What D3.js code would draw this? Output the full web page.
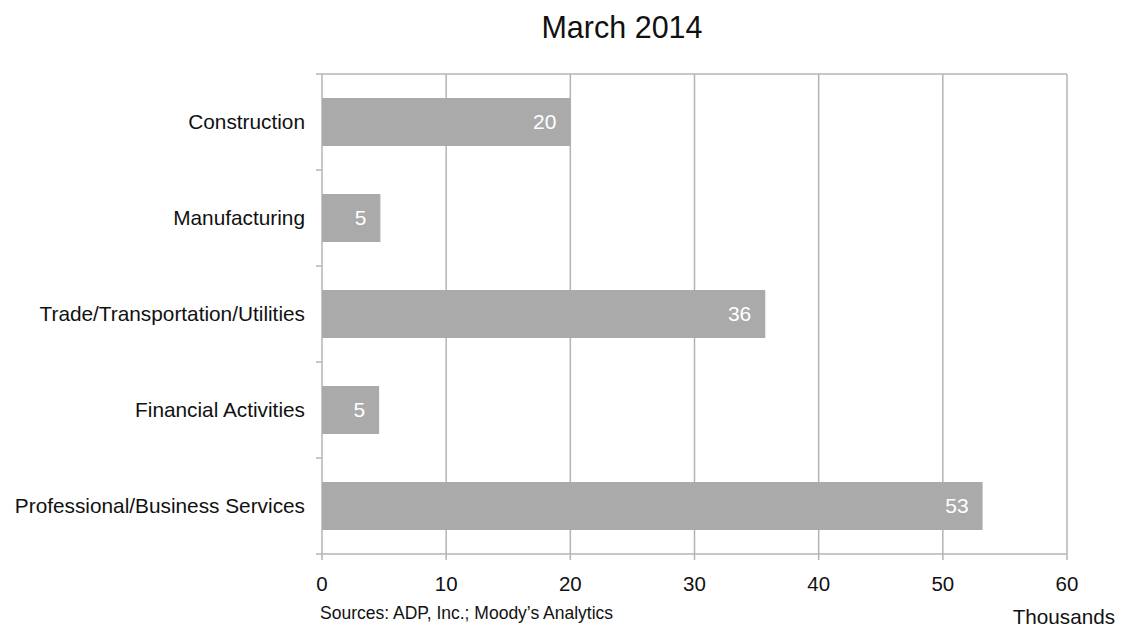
<!DOCTYPE html>
<html>
<head>
<meta charset="utf-8">
<title>March 2014</title>
<script src="https://d3js.org/d3.v7.min.js"></script>
<style>
body { margin: 0; background: #fff; }
text { font-family: "Liberation Sans", Arial, sans-serif; }
</style>
</head>
<body>
<div id="chart"></div>
<script>
// data (thousands)
var categories = ["Construction", "Manufacturing", "Trade/Transportation/Utilities",
                  "Financial Activities", "Professional/Business Services"];
var values = [20.0, 4.7, 35.7, 4.6, 53.2];
var labels = ["20", "5", "36", "5", "53"];
var xTicks = [0, 10, 20, 30, 40, 50, 60];

var W = 1121, H = 629;
var margin = {top: 74, right: 54, bottom: 75, left: 322},
	width = W - margin.left - margin.right,
	height = H - margin.top - margin.bottom;

var gridColor = "#b4b4b4";

var svg = d3.select("#chart").append("svg")
	.attr("width", W)
	.attr("height", H);

var g = svg.append("g")
	.attr("transform", "translate(" + margin.left + "," + margin.top + ")");

var x = d3.scaleLinear().domain([0, 60]).range([0, width]);
var y = d3.scaleBand().domain(categories).range([0, height]).paddingInner(0.5).paddingOuter(0.25);

// title
svg.append("text")
	.attr("x", 622)
	.attr("y", 38)
	.attr("text-anchor", "middle")
	.attr("font-size", 30.5)
	.attr("fill", "#111")
	.text("March 2014");

// vertical gridlines
g.selectAll(".grid").data(xTicks).enter().append("line")
	.attr("x1", function(d) { return x(d); })
	.attr("x2", function(d) { return x(d); })
	.attr("y1", 0)
	.attr("y2", height + 6)
	.attr("stroke", gridColor)
	.attr("stroke-width", 1.5);

// top border
g.append("line")
	.attr("x1", -6).attr("x2", width)
	.attr("y1", 0).attr("y2", 0)
	.attr("stroke", gridColor).attr("stroke-width", 1.5);

// bottom axis line
g.append("line")
	.attr("x1", -6).attr("x2", width)
	.attr("y1", height).attr("y2", height)
	.attr("stroke", gridColor).attr("stroke-width", 1.5);

// category boundary ticks on left axis
var step = height / categories.length;
g.selectAll(".ytick").data(d3.range(1, categories.length)).enter().append("line")
	.attr("x1", -6).attr("x2", 0)
	.attr("y1", function(i) { return i * step; })
	.attr("y2", function(i) { return i * step; })
	.attr("stroke", gridColor).attr("stroke-width", 1.5);

// x tick labels
g.selectAll(".xlab").data(xTicks).enter().append("text")
	.attr("x", function(d) { return x(d); })
	.attr("y", height + 37)
	.attr("text-anchor", "middle")
	.attr("font-size", 20.5)
	.attr("fill", "#111")
	.text(function(d) { return d; });

// category labels
g.selectAll(".ylab").data(categories).enter().append("text")
	.attr("x", -17)
	.attr("y", function(d) { return y(d) + y.bandwidth() / 2; })
	.attr("dy", "0.35em")
	.attr("text-anchor", "end")
	.attr("font-size", 20.8)
	.attr("fill", "#111")
	.text(function(d) { return d; });

// bars
g.selectAll(".bar").data(values).enter().append("rect")
	.attr("x", 0)
	.attr("y", function(d, i) { return y(categories[i]); })
	.attr("width", function(d) { return x(d); })
	.attr("height", y.bandwidth())
	.attr("fill", "#aaaaaa");

// value labels inside bar end
g.selectAll(".val").data(values).enter().append("text")
	.attr("x", function(d) { return x(d) - 14; })
	.attr("y", function(d, i) { return y(categories[i]) + y.bandwidth() / 2; })
	.attr("dy", "0.35em")
	.attr("text-anchor", "end")
	.attr("font-size", 21)
	.attr("fill", "#fff")
	.text(function(d, i) { return labels[i]; });

// source note
svg.append("text")
	.attr("x", 320)
	.attr("y", 619)
	.attr("font-size", 17.5)
	.attr("fill", "#111")
	.text("Sources: ADP, Inc.; Moody\u2019s Analytics");

// unit label
svg.append("text")
	.attr("x", 1115)
	.attr("y", 624)
	.attr("text-anchor", "end")
	.attr("font-size", 20.7)
	.attr("fill", "#111")
	.text("Thousands");
</script>
</body>
</html>
